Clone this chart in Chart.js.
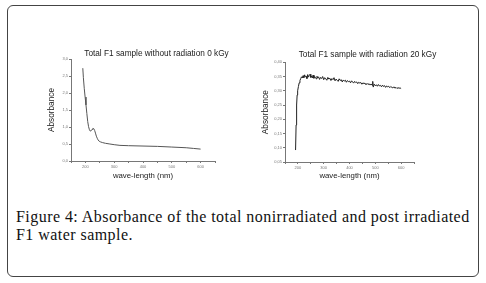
<!DOCTYPE html>
<html><head><meta charset="utf-8">
<script src="https://cdn.jsdelivr.net/npm/chart.js@4/dist/chart.umd.min.js"></script>
<style>
html,body{margin:0;padding:0;background:#fff;width:486px;height:283px;overflow:hidden}
#frame{position:absolute;left:7px;top:5px;width:472px;height:272px;box-sizing:border-box;border:1.5px solid #444;border-radius:6px}
canvas{position:absolute}
#c1{left:45px;top:40px}
#c2{left:259px;top:40px}
#cap{position:absolute;left:16px;top:207.5px;font-family:"Liberation Serif",serif;font-size:16px;letter-spacing:0.45px;line-height:18.7px;color:#111;width:466px;white-space:nowrap}
</style></head>
<body>
<div id="frame"></div>
<canvas id="c1" width="223" height="143"></canvas>
<canvas id="c2" width="217" height="143"></canvas>
<div id="cap">Figure 4: Absorbance of the total nonirradiated and post irradiated<br>F1 water sample.</div>
<script>
// Chart 1: without radiation (0 kGy)
const title0 = 'Total F1 sample without radiation 0 kGy';
const wl0 = [191,193,196,199,202,205,208,211,214,217,220,223,226,229,232,235,238,241,244,248,253,260,270,285,300,320,350,400,450,500,550,575,600];
const abs0 = [2.73,2.45,2.14,1.88,1.65,1.40,1.16,1.01,0.92,0.88,0.89,0.93,0.96,0.95,0.90,0.82,0.73,0.67,0.62,0.58,0.56,0.54,0.52,0.50,0.48,0.46,0.45,0.44,0.43,0.41,0.39,0.37,0.35];

// Chart 2: with radiation (20 kGy)
const title1 = 'Total F1 sample with radiation 20 kGy';
const wl1 = [191,193,195,197,199,202,205,208,211,214,217,
 220,223,226,229,232,235,238,241,244,247,250,253,256,259,262,265,268,271,274,277,280,284,288,292,296,300,304,308,312,316,320,324,328,332,336,340,344,348,352,356,360,364,368,372,376,380,384,388,392,396,400,404,408,412,416,420,424,428,432,436,440,444,448,452,456,460,464,468,472,476,480,484,488,490,492,496,500,504,508,512,516,520,524,528,532,536,540,544,548,552,556,560,564,568,572,576,580,584,588,592,596,600];
const abs1 = [0.092,0.180,0.250,0.285,0.300,0.315,0.328,0.336,0.343,0.349,0.345,
 0.353,0.346,0.356,0.349,0.351,0.343,0.357,0.348,0.354,0.358,0.347,0.352,0.345,0.355,0.344,0.350,0.347,0.342,0.351,0.345,0.349,0.340,0.347,0.343,0.350,0.339,0.346,0.342,0.337,0.347,0.341,0.344,0.336,0.343,0.339,0.346,0.335,0.341,0.337,0.333,0.342,0.336,0.339,0.331,0.338,0.334,0.337,0.330,0.336,0.332,0.334,0.328,0.335,0.331,0.327,0.333,0.329,0.331,0.325,0.330,0.327,0.329,0.323,0.328,0.325,0.327,0.321,0.326,0.322,0.325,0.320,0.324,0.319,0.333,0.313,0.323,0.318,0.321,0.316,0.322,0.317,0.319,0.314,0.320,0.315,0.318,0.312,0.317,0.314,0.316,0.311,0.315,0.312,0.310,0.314,0.309,0.312,0.308,0.311,0.309,0.310,0.308];

const xLabel = 'wave-length (nm)';
const yLabel = 'Absorbance';
const xMin = 150, xMax = 650, xStep = 50;
const y0Min = 0, y0Max = 3, y0Step = 0.5;
const y1Min = 0.05, y1Max = 0.40, y1Step = 0.05;

const SANS = "'Liberation Sans', Arial, sans-serif";

function build(id, title, xs, ys, color, ymin, ymax, ystep, dec, cfg) {
  return new Chart(document.getElementById(id), {
    type: 'line',
    data: { datasets: [{ data: xs.map((x, i) => ({ x: x, y: ys[i] })), borderColor: color, borderWidth: 1, pointRadius: 0, tension: 0, fill: false }] },
    options: {
      responsive: false, animation: false, devicePixelRatio: 1,
      layout: { padding: 0 },
      plugins: {
        legend: { display: false }, tooltip: { enabled: false },
        title: { display: true, text: title, font: { family: SANS, size: 8.25, weight: 'normal' }, color: '#222', padding: { top: cfg.tTop, bottom: cfg.tBot } }
      },
      scales: {
        x: {
          type: 'linear', min: xMin, max: xMax,
          afterFit: s => { s.height = cfg.xH; },
          border: { color: '#777', width: 1 },
          grid: { drawOnChartArea: false, tickLength: 2, color: '#777' },
          ticks: { stepSize: xStep, autoSkip: false, maxRotation: 0, padding: 1, font: { family: SANS, size: 4 }, color: '#777', callback: v => (v % 100 === 0 ? String(v) : '') },
          title: { display: true, text: xLabel, font: { family: SANS, size: 7.8 }, color: '#222', padding: { top: 0, bottom: 2 } }
        },
        y: {
          type: 'linear', min: ymin, max: ymax,
          afterFit: s => { s.width = cfg.yW; },
          border: { color: '#777', width: 1 },
          grid: { drawOnChartArea: false, tickLength: 2, color: '#777' },
          ticks: { stepSize: ystep, autoSkip: false, padding: 1, font: { family: SANS, size: 4 }, color: '#777', callback: v => v.toFixed(dec).replace('.', ',') },
          title: { display: true, text: yLabel, font: { family: SANS, size: 8.25 }, color: '#222', padding: { top: 2.05, bottom: 0 } }
        },
        y2: {
          position: 'right', display: true,
          afterFit: s => { s.width = cfg.rW; },
          grid: { display: false }, border: { display: false }, ticks: { display: false }
        }
      }
    }
  });
}

build('c1', title0, wl0, abs0, '#555', y0Min, y0Max, y0Step, 1, { tTop: 9.05, tBot: 0.05, xH: 22, yW: 26, rW: 53 });
build('c2', title1, wl1, abs1, '#222', y1Min, y1Max, y1Step, 2, { tTop: 10.05, tBot: 2.35, xH: 21, yW: 26, rW: 62 });
</script>
</body></html>
